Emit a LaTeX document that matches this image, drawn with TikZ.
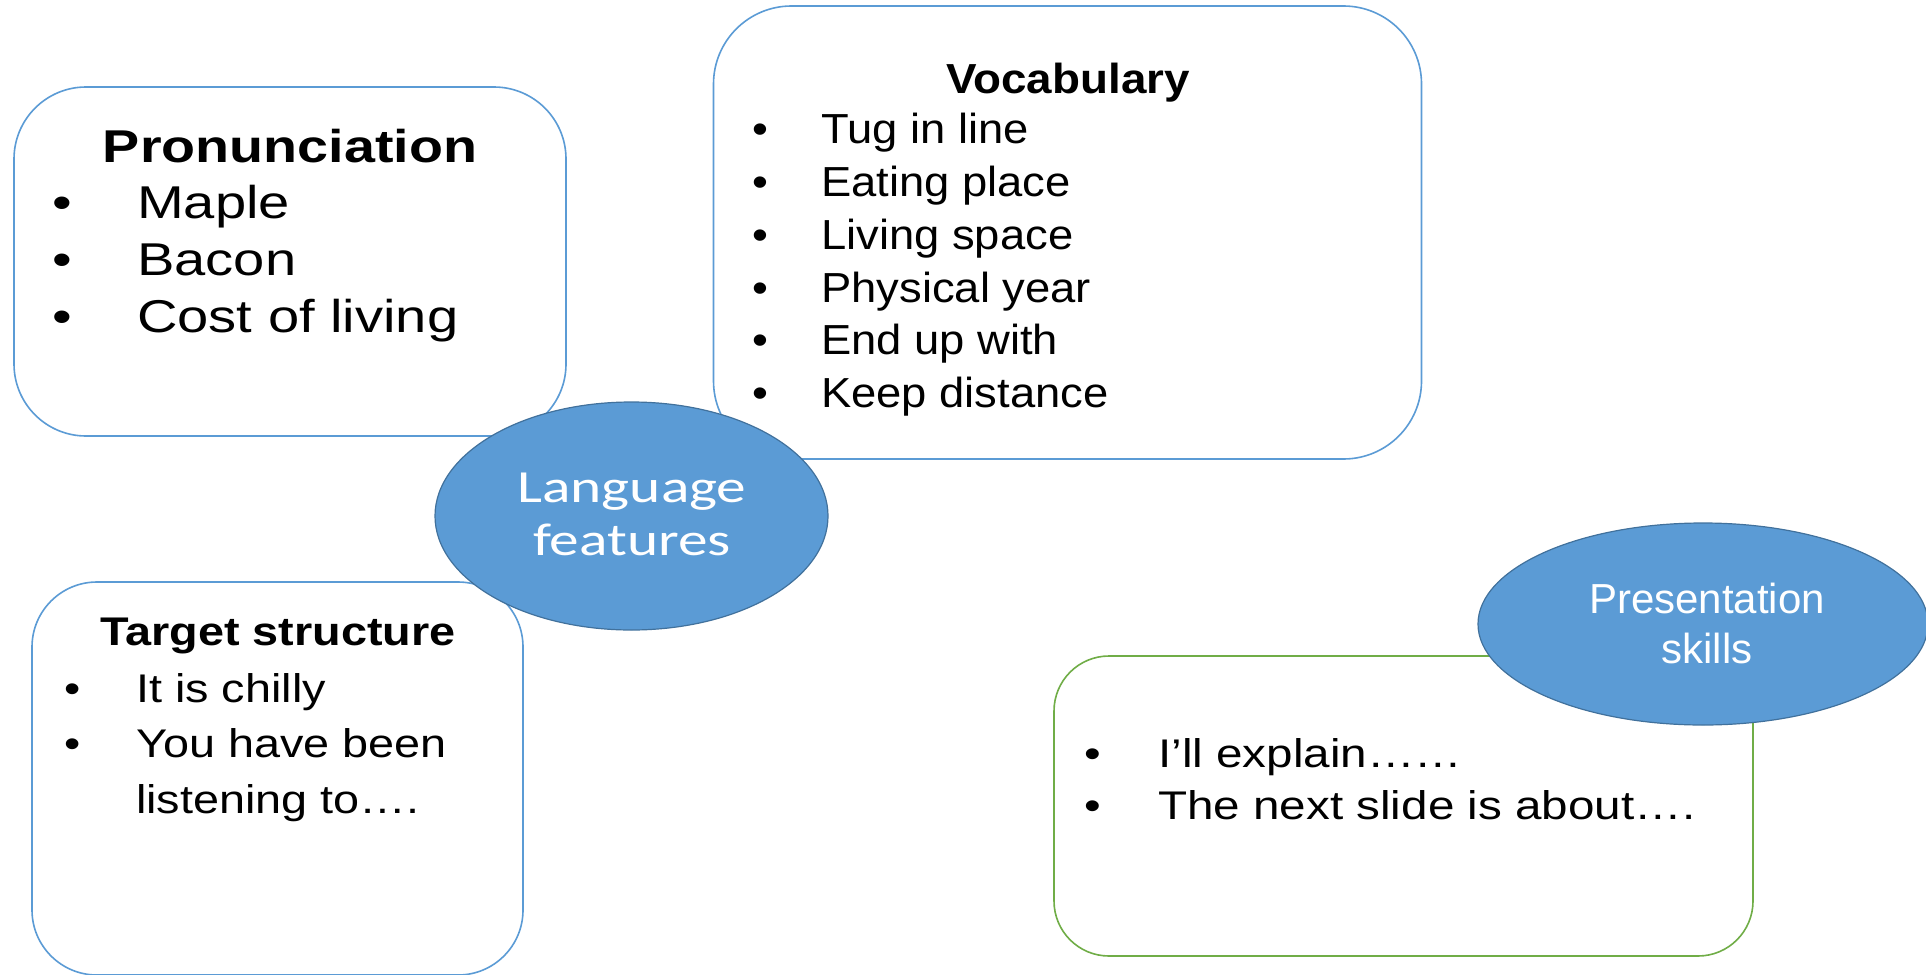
\documentclass[tikz,border=0pt]{standalone}
\usepackage{fontspec}
\setmainfont{Liberation Sans}
\newfontfamily\calibfont{Carlito}
\usetikzlibrary{shapes.geometric}
\definecolor{acc}{HTML}{5B9BD5}
\definecolor{accdark}{HTML}{41719C}
\definecolor{grn}{HTML}{70AD47}
\newcommand{\hs}[2]{\scalebox{#1}[1]{#2}}
\begin{document}
\begin{tikzpicture}[x=1pt,y=-1pt,
  card/.style={draw=acc, line width=1.6pt, fill=white, rounded corners=#1, inner sep=0pt},
  gcard/.style={draw=grn, line width=1.6pt, fill=white, rounded corners=#1, inner sep=0pt},
  blob/.style={ellipse, draw=accdark, line width=1.2pt, fill=acc, inner sep=0pt},
  pronf/.style={font=\fontsize{46}{55}\selectfont},
  vocf/.style={font=\fontsize{42}{50}\selectfont},
  tarf/.style={font=\fontsize{40}{48}\selectfont},
  presf/.style={font=\fontsize{40}{48}\selectfont},
  langf/.style={font=\calibfont\fontsize{46}{55}\selectfont, text=white},
  skillf/.style={font=\fontsize{42}{50}\selectfont, text=white},
  txt/.style={inner sep=0pt}
]
\useasboundingbox (0,0) rectangle (1926,974);
\clip (0,0) rectangle (1926,974);

% boxes
\node[card=72pt, minimum width=552pt, minimum height=349pt] (pron) at (290,261.5) {};
\node[card=78pt, minimum width=708pt, minimum height=453pt] (voc) at (1067.5,232.5) {};
\node[card=65pt, minimum width=491pt, minimum height=393pt] (tar) at (277.5,778.5) {};
\node[gcard=55pt, minimum width=699pt, minimum height=300pt] (pres) at (1403.5,806) {};

% ellipses
\node[blob, minimum width=393pt, minimum height=228pt] (lang) at (631.5,516) {};
\node[blob, minimum width=450pt, minimum height=202pt] (skill) at (1703,624) {};

% Pronunciation
\node[txt, pronf, anchor=base] (pronT) at (290,162) {\hs{1.21}{\bfseries Pronunciation}};
\node[txt, pronf, anchor=base] (pb1) at (62,218) {\hs{1.22}{•}};
\node[txt, pronf, anchor=base] (pb2) at (62,275) {\hs{1.22}{•}};
\node[txt, pronf, anchor=base] (pb3) at (62,332) {\hs{1.22}{•}};
\node[txt, pronf, anchor=base west] (pi1) at (137,218) {\hs{1.22}{Maple}};
\node[txt, pronf, anchor=base west] (pi2) at (137,275) {\hs{1.22}{Bacon}};
\node[txt, pronf, anchor=base west] (pi3) at (137,332) {\hs{1.22}{Cost of living}};

% Vocabulary
\node[txt, vocf, anchor=base] (vocT) at (1068,93) {\hs{1.09}{\bfseries Vocabulary}};
\node[txt, vocf, anchor=base] (vb1) at (760,143) {\hs{1.08}{•}};
\node[txt, vocf, anchor=base] (vb2) at (760,196) {\hs{1.08}{•}};
\node[txt, vocf, anchor=base] (vb3) at (760,249) {\hs{1.08}{•}};
\node[txt, vocf, anchor=base] (vb4) at (760,302) {\hs{1.08}{•}};
\node[txt, vocf, anchor=base] (vb5) at (760,354) {\hs{1.08}{•}};
\node[txt, vocf, anchor=base] (vb6) at (760,407) {\hs{1.08}{•}};
\node[txt, vocf, anchor=base west] (vi1) at (821,143) {\hs{1.08}{Tug in line}};
\node[txt, vocf, anchor=base west] (vi2) at (821,196) {\hs{1.08}{Eating place}};
\node[txt, vocf, anchor=base west] (vi3) at (821,249) {\hs{1.08}{Living space}};
\node[txt, vocf, anchor=base west] (vi4) at (821,302) {\hs{1.08}{Physical year}};
\node[txt, vocf, anchor=base west] (vi5) at (821,354) {\hs{1.08}{End up with}};
\node[txt, vocf, anchor=base west] (vi6) at (821,407) {\hs{1.08}{Keep distance}};

% Target structure
\node[txt, tarf, anchor=base] (tarT) at (278,645) {\hs{1.17}{\bfseries Target structure}};
\node[txt, tarf, anchor=base] (tb1) at (73,702) {\hs{1.16}{•}};
\node[txt, tarf, anchor=base] (tb2) at (73,757) {\hs{1.16}{•}};
\node[txt, tarf, anchor=base west] (ti1) at (136,702) {\hs{1.17}{It is chilly}};
\node[txt, tarf, anchor=base west] (ti2) at (136,757) {\hs{1.17}{You have been}};
\node[txt, tarf, anchor=base west] (ti3) at (136,813) {\hs{1.17}{listening to….}};

% Presentation items
\node[txt, presf, anchor=base] (sb1) at (1093,767) {\hs{1.19}{•}};
\node[txt, presf, anchor=base] (sb2) at (1093,819) {\hs{1.19}{•}};
\node[txt, presf, anchor=base west] (si1) at (1158,767) {\hs{1.19}{I’ll explain……}};
\node[txt, presf, anchor=base west] (si2) at (1158,819) {\hs{1.19}{The next slide is about….}};

% ellipse labels
\node[txt, langf, anchor=base] (langA) at (632,502) {\hs{1.29}{Language}};
\node[txt, langf, anchor=base] (langB) at (632,555) {\hs{1.29}{features}};
\node[txt, skillf, anchor=base] (skA) at (1707,613) {Presentation};
\node[txt, skillf, anchor=base] (skB) at (1707,663) {skills};
\end{tikzpicture}
\end{document}
